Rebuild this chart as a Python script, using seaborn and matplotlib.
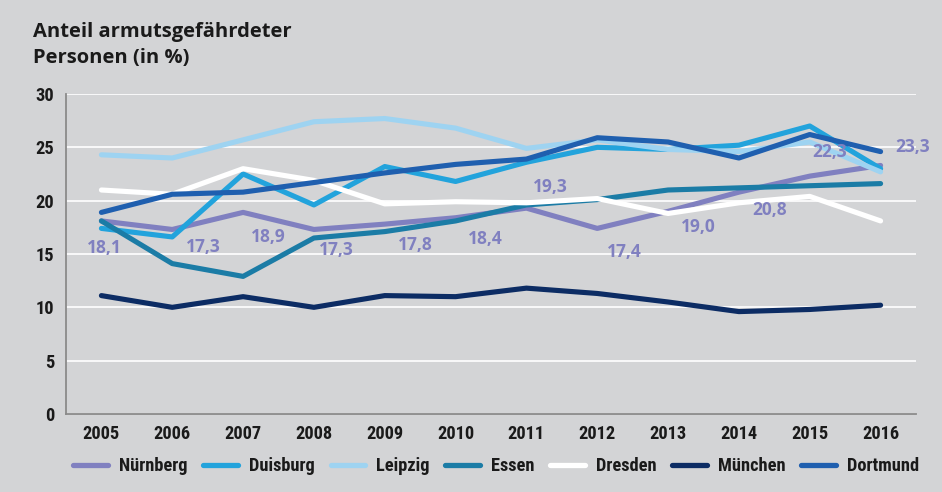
import numpy as np
import pandas as pd
import matplotlib
matplotlib.use("Agg")
import matplotlib.pyplot as plt
from matplotlib import font_manager
import seaborn as sns

years = [2005, 2006, 2007, 2008, 2009, 2010, 2011, 2012, 2013, 2014, 2015, 2016]
cities = ["Nürnberg", "Duisburg", "Leipzig", "Essen", "Dresden", "München", "Dortmund"]

nuernberg = [18.1, 17.3, 18.9, 17.3, 17.8, 18.4, 19.3, 17.4, 19.0, 20.8, 22.3, 23.3]
duisburg = [17.4, 16.6, 22.5, 19.6, 23.2, 21.8, 23.6, 25.0, 24.8, 25.2, 27.0, 23.0]
leipzig = [24.3, 24.0, 25.7, 27.4, 27.7, 26.8, 24.9, 25.7, 24.8, 24.6, 25.5, 22.7]
essen = [18.1, 14.1, 12.9, 16.5, 17.1, 18.1, 19.6, 20.1, 21.0, 21.2, 21.4, 21.6]
dresden = [21.0, 20.6, 23.0, 21.9, 19.7, 19.9, 19.8, 20.2, 18.8, 19.8, 20.4, 18.1]
muenchen = [11.1, 10.0, 11.0, 10.0, 11.1, 11.0, 11.8, 11.3, 10.5, 9.6, 9.8, 10.2]
dortmund = [18.9, 20.6, 20.8, 21.7, 22.6, 23.4, 23.9, 25.9, 25.5, 24.0, 26.2, 24.6]

colors = ["#8080C0", "#22A3DC", "#9ED3F1", "#1B7CA6", "#FFFFFF", "#0C2C64", "#1F5FAF"]

# Excel-like placement of the Nürnberg data labels (offset in pixels from point)
label_dx = [3, 31, 25, 22, 31, 30, 24, 27, 30, 31, 20, 32]
label_dy = [-27, -18, -25, -21, -21, -21, 21, -24, -16, -18, 24, 18]

series = [nuernberg, duisburg, leipzig, essen, dresden, muenchen, dortmund]
df = pd.DataFrame({
    "Jahr": np.tile(np.arange(len(years)), len(cities)),
    "Wert": np.concatenate(series),
    "Stadt": np.repeat(cities, len(years)),
})

# pick a narrow font for ticks/legend if one is installed
names = {f.name for f in font_manager.fontManager.ttflist}
narrow = None
for cand in ["Liberation Sans Narrow", "Roboto Condensed", "Open Sans Condensed", "DejaVu Sans Condensed"]:
    if cand in names:
        narrow = cand
        break
condensed_dejavu = any(f.name == "DejaVu Sans" and f.stretch == "condensed" for f in font_manager.fontManager.ttflist)
if narrow:
    tick_font = dict(family=[narrow, "DejaVu Sans"], size=13.2, stretch="normal")
elif condensed_dejavu:
    tick_font = dict(family=["DejaVu Sans"], size=12.5, stretch="condensed")
else:
    tick_font = dict(family=["Liberation Sans", "DejaVu Sans"], size=12.5, stretch="condensed")

bg = "#D3D4D6"
sns.set_style("white", {"axes.facecolor": bg, "figure.facecolor": bg})
plt.rcParams["font.family"] = tick_font["family"]
plt.rcParams["font.stretch"] = tick_font["stretch"]

fig = plt.figure(figsize=(9.42, 4.92), dpi=100)
ax = fig.add_axes([66 / 942, 1 - 414 / 492, (916 - 66) / 942, (414 - 94) / 492])

sns.lineplot(data=df, x="Jahr", y="Wert", hue="Stadt", hue_order=cities,
             palette=dict(zip(cities, colors)), linewidth=3.7, ax=ax,
             legend=False, solid_capstyle="round", sort=False)

ax.set_xlim(-0.5, len(years) - 0.5)
ax.set_ylim(0, 30)
ax.set_yticks([0, 5, 10, 15, 20, 25, 30])
ax.set_xticks(range(len(years)))
ax.set_xticklabels([str(y) for y in years])
ax.set_xticks(np.arange(-0.5, len(years), 1), minor=True)
ax.set_xlabel("")
ax.set_ylabel("")
ax.yaxis.grid(True, color="white", linewidth=1.2)
ax.set_axisbelow(True)
for s in ["top", "right"]:
    ax.spines[s].set_visible(False)
for s in ["left", "bottom"]:
    ax.spines[s].set_color("#8A8A8A")
    ax.spines[s].set_linewidth(1.3)
ax.tick_params(axis="x", which="major", length=0, pad=8, labelsize=tick_font["size"], colors="#1A1A1A")
ax.tick_params(axis="x", which="minor", length=5, width=1, color="#8A8A8A", direction="out")
ax.tick_params(axis="y", length=4.3, width=1, color="#8A8A8A", pad=4, labelsize=tick_font["size"], labelcolor="#1A1A1A")
for lab in ax.get_xticklabels() + ax.get_yticklabels():
    lab.set_fontweight("bold")

for i, v in enumerate(nuernberg):
    ax.annotate(f"{v:.1f}".replace(".", ","), (i, v),
                xytext=(label_dx[i] * 0.72, label_dy[i] * 0.72), textcoords="offset points",
                ha="center", va="center", color=colors[0], fontsize=12.5,
                fontweight="bold", family=["Open Sans", "DejaVu Sans"], fontstretch="normal", zorder=10)

fig.text(33 / 942, 1 - 45 / 492, "Anteil armutsgefährdeter\nPersonen (in %)",
         ha="left", va="center", fontsize=14.5, fontweight="bold", color="#1A1A1A",
         linespacing=1.35, family=["Open Sans", "DejaVu Sans"], fontstretch="normal")

handles = [plt.Line2D([], [], color=c, linewidth=3.8, solid_capstyle="round") for c in colors]
leg = fig.legend(handles, cities, ncol=7, loc="center", bbox_to_anchor=(0.527, 1 - 466 / 492),
                 frameon=False, handlelength=1.9, handletextpad=0.6, columnspacing=0.85,
                 prop={"weight": "bold", "size": tick_font["size"], "family": tick_font["family"],
                       "stretch": tick_font["stretch"]})
for t in leg.get_texts():
    t.set_color("#1A1A1A")

fig.savefig("out.png", dpi=100, facecolor=bg)
